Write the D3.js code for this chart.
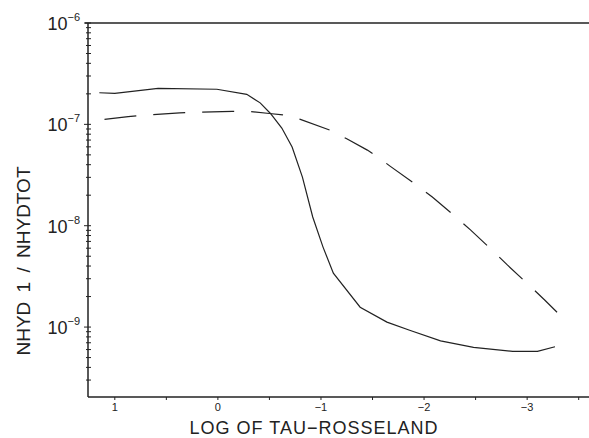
<!DOCTYPE html>
<html>
<head>
<meta charset="utf-8">
<script src="https://cdn.jsdelivr.net/npm/d3@7"></script>
<style>
  body { margin: 0; background: #fff; }
  text { font-family: "Liberation Sans", Arial, sans-serif; fill: #222; }
</style>
</head>
<body>
<div id="container"></div>
<script>
var width = 589;
var height = 438;

// log tau-Rosseland (x) and NHYD 1 / NHYDTOT (y)
var solidTau = [1.15, 1.0, 0.58, 0.01, -0.28, -0.41, -0.51, -0.62, -0.72, -0.82, -0.92, -1.02, -1.12, -1.38, -1.64, -1.86, -2.16, -2.48, -2.86, -3.10, -3.27];
var solidVal = [2.05e-7, 2.02e-7, 2.26e-7, 2.22e-7, 1.98e-7, 1.63e-7, 1.28e-7, 9.2e-8, 5.97e-8, 3.02e-8, 1.22e-8, 6.15e-9, 3.4e-9, 1.57e-9, 1.12e-9, 9.3e-10, 7.3e-10, 6.3e-10, 5.75e-10, 5.75e-10, 6.4e-10];

var dashTau = [1.10, 0.87, 0.68, 0.37, 0.17, -0.14, -0.31, -0.50, -0.63, -0.80, -1.11, -1.25, -1.45, -1.54, -1.67, -1.94, -2.08, -2.32, -2.45, -2.69, -2.81, -3.05, -3.17, -3.29];
var dashVal = [1.12e-7, 1.19e-7, 1.24e-7, 1.30e-7, 1.32e-7, 1.34e-7, 1.34e-7, 1.28e-7, 1.24e-7, 1.12e-7, 8.6e-8, 7.2e-8, 5.57e-8, 4.86e-8, 3.87e-8, 2.46e-8, 1.92e-8, 1.19e-8, 9.1e-9, 5.37e-9, 4.08e-9, 2.42e-9, 1.85e-9, 1.40e-9];

var xTicks = [1, 0, -1, -2, -3];
var yExps = [-6, -7, -8, -9];

var svg = d3.select("#container").append("svg")
  .attr("width", width)
  .attr("height", height);

var x = d3.scaleLinear().domain([1.26, -3.6]).range([88, 589]);
var y = d3.scaleLog().domain([Math.pow(10, -9.69), 1e-6]).range([397, 23]);

var ink = "#222";

// frame: left, top, bottom
svg.append("line").attr("x1", 88).attr("x2", 88).attr("y1", 23).attr("y2", 397).attr("stroke", ink).attr("stroke-width", 1.5);
svg.append("line").attr("x1", 85).attr("x2", 589).attr("y1", 23).attr("y2", 23).attr("stroke", ink).attr("stroke-width", 1.5);
svg.append("line").attr("x1", 88).attr("x2", 589).attr("y1", 397).attr("y2", 397).attr("stroke", ink).attr("stroke-width", 1.5);

// x ticks every 0.5
var xt = d3.range(1, -3.6, -0.5);
svg.selectAll(".xt").data(xt).enter().append("line")
  .attr("x1", d => x(d)).attr("x2", d => x(d))
  .attr("y1", 397).attr("y2", 400)
  .attr("stroke", ink).attr("stroke-width", 1);

svg.selectAll(".xl").data(xTicks).enter().append("text")
  .attr("x", d => x(d)).attr("y", 411)
  .attr("text-anchor", "middle")
  .attr("font-size", 11)
  .text(d => d < 0 ? "\u2212" + Math.abs(d) : d);

// y minor + major ticks
var yt = [];
[-10, -9, -8, -7].forEach(function (e) {
  for (var m = 1; m < 10; m++) {
    var v = m * Math.pow(10, e);
    if (v >= y.domain()[0] && v <= 1e-6) yt.push(v);
  }
});
yt.push(1e-6);
svg.selectAll(".yt").data(yt).enter().append("line")
  .attr("x1", d => Math.abs(Math.log10(d) - Math.round(Math.log10(d))) < 1e-9 ? 84 : 86)
  .attr("x2", 91)
  .attr("y1", d => y(d)).attr("y2", d => y(d))
  .attr("stroke", ink).attr("stroke-width", 1);

var yl = svg.selectAll(".yl").data(yExps).enter().append("text")
  .attr("x", 80).attr("y", d => y(Math.pow(10, d)) + 7)
  .attr("text-anchor", "end")
  .attr("font-size", 18);
yl.append("tspan").text("10");
yl.append("tspan").attr("font-size", 11).attr("dy", -9).text(d => "\u2212" + Math.abs(d));

// axis titles
svg.append("text")
  .attr("x", 314).attr("y", 434)
  .attr("text-anchor", "middle")
  .attr("font-size", 18)
  .attr("letter-spacing", 1)
  .text("LOG OF TAU\u2212ROSSELAND");

svg.append("text")
  .attr("transform", "translate(30,261) rotate(-90)")
  .attr("text-anchor", "middle")
  .attr("font-size", 19)
  .attr("word-spacing", 4)
  .text("NHYD 1 / NHYDTOT");

// curves
var line = d3.line().x(d => x(d[0])).y(d => y(d[1]));

svg.append("path")
  .attr("d", line(d3.zip(solidTau, solidVal)))
  .attr("fill", "none").attr("stroke", ink).attr("stroke-width", 1.2);

svg.append("path")
  .attr("d", line(d3.zip(dashTau, dashVal)))
  .attr("fill", "none").attr("stroke", ink).attr("stroke-width", 1.2)
  .attr("stroke-dasharray", "32,17");
</script>
</body>
</html>
